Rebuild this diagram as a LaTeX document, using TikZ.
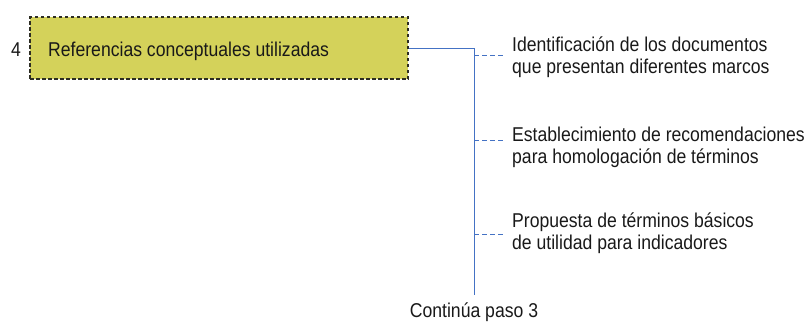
\documentclass[tikz,border=0pt]{standalone}
\usepackage{fontspec}
\setmainfont{Liberation Sans}[FakeStretch=0.88]
\definecolor{boxfill}{RGB}{212,210,90}
\definecolor{boxline}{RGB}{45,45,35}
\definecolor{linkblue}{RGB}{68,114,196}
\definecolor{txt}{RGB}{25,25,25}
\begin{document}
\begin{tikzpicture}[x=1pt,y=-1pt,
  every node/.style={font=\fontsize{20}{22}\selectfont, text=txt},
  stepbox/.style={draw=boxline, dash pattern=on 3.5pt off 2.5pt, line width=1.4pt, fill=boxfill, minimum width=378pt, minimum height=62pt, inner sep=0pt},
  conn/.style={draw=linkblue, line width=1pt},
  stub/.style={draw=linkblue, line width=0.9pt, dash pattern=on 5pt off 3pt},
  item/.style={anchor=base west, align=left, inner sep=0pt}]
\useasboundingbox (0,0) rectangle (809,325);
\node[stepbox] (box) at (219,48) {};
\node[anchor=base west, inner sep=0pt] (lbl) at (48,56) {Referencias conceptuales utilizadas};
\node[anchor=base, inner sep=0pt] (num) at (16,56) {4};
\coordinate (j) at (474,48);
\coordinate (bot) at (474,295);
\node[item] (i1) at (512,73) {Identificación de los documentos\\que presentan diferentes marcos};
\node[item] (i2) at (512,163) {Establecimiento de recomendaciones\\para homologación de términos};
\node[item] (i3) at (512,249) {Propuesta de términos básicos\\de utilidad para indicadores};
\node[anchor=base, inner sep=0pt] (cont) at (474,317) {Continúa paso 3};
\coordinate (s1) at (474,55);  \coordinate (e1) at (504,55);
\coordinate (s2) at (474,140); \coordinate (e2) at (504,140);
\coordinate (s3) at (474,234); \coordinate (e3) at (504,234);
\draw[conn] (box.east) -- (j) -- (bot);
\draw[stub] (s1) -- (e1);
\draw[stub] (s2) -- (e2);
\draw[stub] (s3) -- (e3);
\end{tikzpicture}
\end{document}
